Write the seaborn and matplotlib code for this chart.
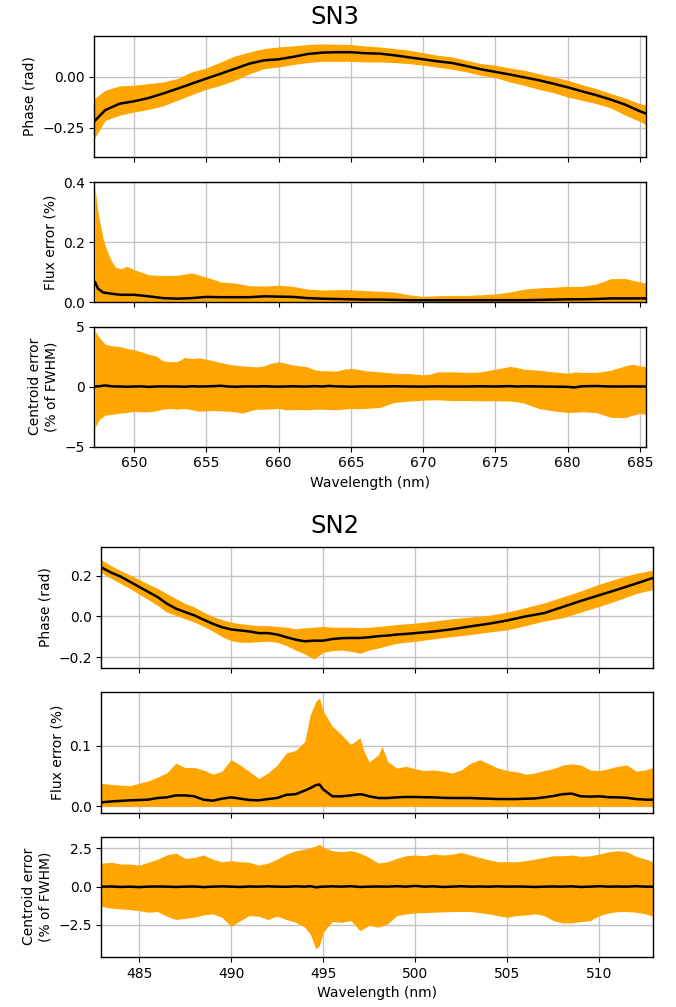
import matplotlib
matplotlib.use("Agg")
import matplotlib.pyplot as plt
import seaborn as sns
import numpy as np

# ---------------- SN3 filter ----------------
sn3_phase_wl = [647.25, 648, 649, 650, 651, 652, 653, 654, 655, 656, 657, 658, 659,
                660, 661, 662, 663, 664, 665, 666, 667, 668, 669, 670, 671, 672,
                673, 674, 675, 676, 677, 678, 679, 680, 681, 682, 683, 684, 685, 685.45]
sn3_phase_mean = [-0.219, -0.164, -0.132, -0.120, -0.104, -0.082, -0.058, -0.033, -0.008,
                  0.016, 0.041, 0.066, 0.082, 0.087, 0.099, 0.113, 0.120, 0.122, 0.122,
                  0.117, 0.115, 0.107, 0.097, 0.087, 0.077, 0.069, 0.054, 0.038, 0.025,
                  0.012, -0.002, -0.016, -0.033, -0.051, -0.071, -0.090, -0.112, -0.137,
                  -0.169, -0.181]
sn3_phase_hi = [-0.107, -0.066, -0.044, -0.041, -0.033, -0.025, -0.008, 0.025, 0.044,
                0.074, 0.104, 0.123, 0.140, 0.148, 0.153, 0.160, 0.163, 0.161, 0.160,
                0.153, 0.148, 0.140, 0.132, 0.120, 0.107, 0.099, 0.082, 0.066, 0.058,
                0.044, 0.033, 0.016, 0.000, -0.016, -0.038, -0.058, -0.082, -0.104,
                -0.132, -0.140]
sn3_phase_lo = [-0.304, -0.214, -0.189, -0.173, -0.160, -0.143, -0.115, -0.087, -0.061,
                -0.041, -0.016, 0.016, 0.041, 0.049, 0.061, 0.071, 0.077, 0.077, 0.077,
                0.074, 0.074, 0.071, 0.066, 0.058, 0.048, 0.038, 0.025, 0.008, -0.003,
                -0.025, -0.041, -0.061, -0.077, -0.099, -0.115, -0.132, -0.153, -0.189,
                -0.219, -0.238]

sn3_flux_wl = [647.3, 647.5, 647.85, 648.1, 648.4, 648.7, 649.1, 649.5,
               650, 651, 652, 653, 654, 655, 656, 657, 658, 659, 660, 661, 662, 663,
               664, 665, 666, 667, 668, 669, 670, 671, 672, 673, 674, 675, 676, 677,
               678, 679, 680, 681, 682, 683, 684, 685, 685.4]
sn3_flux_hi = [0.380, 0.300, 0.213, 0.174, 0.141, 0.116, 0.111, 0.119,
               0.108, 0.091, 0.088, 0.089, 0.097, 0.083, 0.067, 0.063, 0.054, 0.053,
               0.056, 0.052, 0.043, 0.040, 0.041, 0.041, 0.038, 0.036, 0.033, 0.024,
               0.019, 0.021, 0.022, 0.022, 0.024, 0.027, 0.033, 0.043, 0.047, 0.049,
               0.052, 0.052, 0.060, 0.078, 0.078, 0.067, 0.063]
sn3_flux_mean = [0.067, 0.045, 0.032, 0.030, 0.028, 0.026, 0.024, 0.024,
                 0.024, 0.019, 0.013, 0.011, 0.013, 0.017, 0.016, 0.016, 0.016, 0.019,
                 0.018, 0.017, 0.013, 0.011, 0.010, 0.009, 0.008, 0.008, 0.007, 0.006,
                 0.006, 0.006, 0.006, 0.006, 0.006, 0.006, 0.006, 0.006, 0.007, 0.008,
                 0.009, 0.009, 0.010, 0.012, 0.012, 0.012, 0.012]

sn3_cent_wl = [647.3, 647.6,
               648, 648.5, 649, 649.5, 650, 650.5, 651, 651.5, 652, 652.5,
               653, 653.5, 654, 654.5, 655, 655.5, 656, 656.5, 657, 657.5,
               658, 658.5, 659, 659.5, 660, 660.5, 661, 661.5, 662, 662.5,
               663, 663.5, 664, 664.5, 665, 665.5, 666,
               667, 668, 669, 670, 670.5, 671, 672, 673, 674, 675, 676, 676.5,
               677, 678, 679, 680, 680.5, 681, 682, 683, 684, 684.5, 685, 685.4]
sn3_cent_hi = [4.64, 4.08,
               3.53, 3.39, 3.33, 3.17, 3.06, 2.89, 2.69, 2.56, 2.14, 2.06,
               2.08, 2.42, 2.33, 2.39, 2.28, 2.14, 2.00, 1.86, 1.78, 1.72,
               1.67, 1.64, 1.72, 1.94, 2.06, 1.94, 1.78, 1.72, 1.64, 1.39,
               1.31, 1.31, 1.28, 1.44, 1.50, 1.44, 1.31,
               1.22, 1.11, 1.08, 0.97, 1.03, 1.22, 1.22, 1.17, 1.22, 1.44, 1.67, 1.58,
               1.44, 1.36, 1.22, 1.11, 1.22, 1.17, 1.17, 1.36, 1.72, 1.86, 1.72, 1.67]
sn3_cent_lo = [-3.42, -2.72,
               -2.39, -2.31, -2.22, -2.17, -2.08, -2.11, -2.11, -2.03, -1.89, -1.83,
               -1.89, -1.83, -1.94, -2.06, -2.03, -2.00, -2.03, -2.06, -2.11, -2.22,
               -2.03, -1.89, -1.89, -1.86, -1.83, -1.94, -1.94, -1.92, -1.94, -1.90,
               -1.89, -1.92, -1.94, -1.88, -1.83, -1.85, -1.83,
               -1.75, -1.33, -1.22, -1.14, -1.12, -1.11, -1.17, -1.17, -1.19, -1.19, -1.22, -1.28,
               -1.39, -1.83, -2.03, -2.17, -2.14, -2.11, -2.17, -2.58, -2.58, -2.40, -2.25, -2.31]
sn3_cent_mean = [0.00, 0.02,
                 0.09, 0.01, 0.00, -0.02, 0.00, 0.01, -0.03, 0.00, 0.01, 0.00,
                 0.00, -0.02, 0.02, 0.00, 0.01, 0.03, 0.06, 0.00, -0.02, 0.00,
                 0.01, 0.00, 0.02, 0.00, -0.01, 0.00, 0.02, 0.00, 0.00, 0.03,
                 0.00, 0.05, 0.01, 0.00, -0.02, 0.00, 0.01,
                 0.00, 0.02, 0.00, -0.01, 0.00, 0.01, 0.00, 0.00, 0.02, 0.00, 0.03, 0.00,
                 0.02, 0.00, -0.01, -0.03, -0.08, 0.02, 0.04, 0.00, 0.00, 0.01, 0.00, 0.00]

# ---------------- SN2 filter ----------------
sn2_phase_wl = [482.95, 483.5, 484, 484.5, 485, 485.5, 486, 486.5, 487, 487.5,
                488, 488.5, 489, 489.5, 490, 490.5, 491, 491.5, 492, 492.5,
                493, 493.5, 494, 494.5, 495, 495.5, 496, 496.5, 497, 497.5,
                498, 498.5, 499, 499.5, 500,
                501, 502, 503, 504, 505, 506, 507, 508, 509, 510, 511, 512, 512.93]
sn2_phase_mean = [0.240, 0.214, 0.195, 0.170, 0.145, 0.120, 0.095, 0.063, 0.038, 0.021,
                  0.005, -0.016, -0.036, -0.053, -0.064, -0.069, -0.074, -0.082, -0.082, -0.089,
                  -0.102, -0.114, -0.122, -0.119, -0.119, -0.111, -0.107, -0.106, -0.106, -0.102,
                  -0.097, -0.094, -0.089, -0.086, -0.082,
                  -0.074, -0.063, -0.049, -0.036, -0.020, 0.000, 0.016, 0.046, 0.076, 0.104,
                  0.132, 0.161, 0.189]
sn2_phase_hi = [0.277, 0.247, 0.224, 0.203, 0.181, 0.158, 0.137, 0.112, 0.087, 0.063,
                0.046, 0.021, 0.000, -0.016, -0.028, -0.036, -0.041, -0.045, -0.045, -0.049,
                -0.053, -0.061, -0.056, -0.053, -0.049, -0.053, -0.053, -0.053, -0.056, -0.053,
                -0.049, -0.045, -0.040, -0.036, -0.033,
                -0.023, -0.012, -0.003, 0.005, 0.021, 0.043, 0.066, 0.095, 0.125, 0.158,
                0.186, 0.211, 0.227]
sn2_phase_lo = [0.214, 0.186, 0.161, 0.137, 0.109, 0.082, 0.054, 0.021, 0.005, -0.012,
                -0.028, -0.049, -0.072, -0.099, -0.119, -0.127, -0.127, -0.124, -0.122, -0.127,
                -0.143, -0.165, -0.184, -0.209, -0.176, -0.168, -0.165, -0.171, -0.181, -0.165,
                -0.155, -0.143, -0.132, -0.127, -0.122,
                -0.110, -0.099, -0.089, -0.077, -0.066, -0.045, -0.023, -0.007, 0.021, 0.049,
                0.079, 0.112, 0.132]

sn2_flux_wl = [482.95, 483.5, 484, 484.5, 485, 485.5, 486, 486.5, 487, 487.5,
               488, 488.5, 489, 489.5, 490, 490.5, 491, 491.5, 492, 492.5,
               493, 493.5, 494, 494.3, 494.6, 494.8, 495, 495.5, 496, 496.5,
               497, 497.2, 497.5, 498, 498.2, 498.5, 499, 499.5, 500, 500.5,
               501, 501.5, 502, 502.5, 503, 503.5, 504, 504.5, 505, 505.5,
               506, 506.5, 507, 507.5, 508, 508.5, 509, 509.5, 510, 510.5,
               511, 511.5, 512, 512.5, 512.93]
sn2_flux_hi = [0.038, 0.036, 0.035, 0.034, 0.038, 0.042, 0.048, 0.055, 0.071, 0.064,
               0.064, 0.060, 0.053, 0.058, 0.077, 0.068, 0.057, 0.046, 0.055, 0.068,
               0.088, 0.092, 0.107, 0.151, 0.173, 0.179, 0.157, 0.132, 0.118, 0.102,
               0.113, 0.092, 0.073, 0.085, 0.099, 0.074, 0.063, 0.066, 0.062, 0.059,
               0.060, 0.058, 0.055, 0.060, 0.071, 0.077, 0.070, 0.063, 0.059, 0.057,
               0.053, 0.055, 0.059, 0.062, 0.068, 0.070, 0.068, 0.060, 0.059, 0.062,
               0.066, 0.068, 0.058, 0.060, 0.064]
sn2_flux_mean = [0.0066, 0.0080, 0.0090, 0.0099, 0.0104, 0.0110, 0.0137, 0.0148, 0.0180, 0.0180,
                 0.0165, 0.0110, 0.0093, 0.0126, 0.0148, 0.0126, 0.0104, 0.0099, 0.0120, 0.0137,
                 0.0190, 0.0200, 0.0260, 0.0300, 0.0350, 0.0360, 0.0280, 0.0165, 0.0165, 0.0180,
                 0.0200, 0.0190, 0.0165, 0.0137, 0.0137, 0.0137, 0.0148, 0.0154, 0.0154, 0.0150,
                 0.0148, 0.0140, 0.0137, 0.0137, 0.0137, 0.0130, 0.0126, 0.0120, 0.0120, 0.0120,
                 0.0126, 0.0130, 0.0148, 0.0170, 0.0200, 0.0210, 0.0165, 0.0160, 0.0165, 0.0150,
                 0.0148, 0.0140, 0.0120, 0.0110, 0.0110]

sn2_cent_wl = [482.95, 483.5, 484, 484.5, 485, 485.5, 486, 486.5, 487, 487.5,
               488, 488.5, 489, 489.5, 490, 490.5, 491, 491.5, 492, 492.5,
               493, 493.5, 494, 494.3, 494.6, 494.8, 495, 495.5, 496, 496.5,
               497, 497.5, 498, 498.5, 499, 499.5, 500, 500.5, 501, 501.5,
               502, 502.5, 503, 503.5, 504, 504.5, 505, 505.5, 506, 506.5,
               507, 507.5, 508, 508.5, 509, 509.5, 510, 510.5, 511, 511.5,
               512, 512.5, 512.93]
sn2_cent_hi = [1.54, 1.59, 1.48, 1.48, 1.41, 1.59, 1.80, 2.07, 2.20, 1.85,
               1.91, 2.07, 1.80, 1.63, 1.70, 1.63, 1.59, 1.41, 1.54, 1.80,
               2.13, 2.35, 2.46, 2.55, 2.66, 2.78, 2.57, 2.35, 2.28, 2.35,
               2.20, 1.91, 1.54, 1.63, 1.85, 2.02, 2.07, 2.02, 2.13, 2.07,
               2.13, 2.24, 2.07, 1.91, 1.76, 1.63, 1.63, 1.63, 1.70, 1.80,
               1.91, 2.02, 2.02, 2.07, 1.98, 2.02, 2.13, 2.28, 2.35, 2.28,
               1.98, 1.80, 1.63]
sn2_cent_lo = [-1.28, -1.41, -1.46, -1.50, -1.57, -1.67, -1.63, -1.93, -2.15, -2.07,
               -2.00, -1.85, -1.78, -2.00, -2.59, -2.22, -1.89, -1.93, -2.15, -1.93,
               -2.15, -2.33, -2.65, -3.09, -4.07, -3.85, -2.98, -2.28, -2.33, -2.22,
               -2.87, -2.54, -2.65, -2.43, -1.89, -1.78, -1.72, -1.70, -1.67, -1.65,
               -1.63, -1.62, -1.63, -1.70, -1.78, -1.90, -2.00, -1.89, -1.85, -1.78,
               -1.89, -2.22, -2.37, -2.37, -2.28, -2.22, -1.89, -1.72, -1.63, -1.63,
               -1.67, -1.78, -1.93]
sn2_cent_mean = [0.00, 0.01, -0.02, 0.00, -0.03, 0.00, 0.01, 0.00, -0.02, 0.00,
                 0.01, -0.03, 0.00, 0.02, 0.00, -0.02, 0.01, 0.00, 0.02, 0.00,
                 -0.01, 0.02, 0.00, 0.03, -0.04, -0.02, 0.00, 0.02, 0.00, 0.03,
                 -0.02, 0.00, 0.01, 0.00, 0.03, 0.00, 0.05, 0.00, 0.02, -0.02,
                 0.00, 0.03, 0.00, 0.01, 0.00, 0.02, 0.00, 0.01, 0.00, -0.02,
                 0.00, 0.01, 0.00, 0.02, -0.02, 0.00, 0.03, 0.00, 0.01, 0.00,
                 0.03, 0.00, 0.00]

# axis settings for each filter
sn3_xlim = (647.25, 685.45)
sn3_xticks = [650, 655, 660, 665, 670, 675, 680, 685]
sn3_ylims = [(-0.395, 0.202), (0.0, 0.4), (-5.0, 5.0)]
sn3_yticks = [[-0.25, 0.0], [0.0, 0.2, 0.4], [-5, 0, 5]]

sn2_xlim = (482.95, 512.93)
sn2_xticks = [485, 490, 495, 500, 505, 510]
sn2_ylims = [(-0.253, 0.34), (-0.011, 0.1885), (-4.6, 3.28)]
sn2_yticks = [[-0.2, 0.0, 0.2], [0.0, 0.1], [-2.5, 0.0, 2.5]]

ylabels = ["Phase (rad)", "Flux error (%)", "Centroid error\n(% of FWHM)"]

sns.set_style("ticks", {
    "axes.edgecolor": "black",
    "axes.grid": True,
    "grid.color": "#c4c4c4",
    "xtick.color": "black",
    "ytick.color": "black",
    "axes.labelcolor": "black",
    "text.color": "black",
})
plt.rcParams.update({
    "font.family": ["DejaVu Sans"],
    "font.size": 10,
    "axes.labelsize": 10,
    "xtick.labelsize": 10,
    "ytick.labelsize": 10,
    "axes.linewidth": 1.0,
    "grid.linewidth": 1.0,
    "xtick.major.size": 3.5,
    "ytick.major.size": 3.5,
    "axes.axisbelow": True,
    "text.color": "black",
})

W, H = 676, 1007
fig = plt.figure(figsize=(W / 100, H / 100), dpi=100)

BAND = "#FFA500"


def rect(left_px, top_px, bot_px):
    return [left_px / W, 1 - bot_px / H, 552 / W, (bot_px - top_px) / H]


def draw_group(rows_px, left_px, xlim, xticks, ylims, yticks, series, title, title_y):
    axes = []
    for i, (top, bot) in enumerate(rows_px):
        ax = fig.add_axes(rect(left_px, top, bot))
        wl, lo, hi, mean = series[i]
        ax.fill_between(wl, lo, hi, color=BAND, linewidth=0, zorder=2)
        sns.lineplot(x=wl, y=mean, ax=ax, color="black", linewidth=1.8, zorder=3)
        ax.set_xlim(*xlim)
        ax.set_ylim(*ylims[i])
        ax.set_yticks(yticks[i])
        ax.set_xticks(xticks)
        ax.set_ylabel(ylabels[i])
        ax.grid(True, color="#c4c4c4", linewidth=1.0)
        for s in ax.spines.values():
            s.set_visible(True)
            s.set_color("black")
        if i < 2:
            ax.tick_params(labelbottom=False)
        else:
            ax.set_xlabel("Wavelength (nm)")
        axes.append(ax)
    fig.text(0.495, title_y, title, ha="center", va="center", fontsize=17.5,
             color="black")
    return axes


sn3_series = [
    (sn3_phase_wl, sn3_phase_lo, sn3_phase_hi, sn3_phase_mean),
    (sn3_flux_wl, [0.0] * len(sn3_flux_wl), sn3_flux_hi, sn3_flux_mean),
    (sn3_cent_wl, sn3_cent_lo, sn3_cent_hi, sn3_cent_mean),
]
sn2_series = [
    (sn2_phase_wl, sn2_phase_lo, sn2_phase_hi, sn2_phase_mean),
    (sn2_flux_wl, [0.0] * len(sn2_flux_wl), sn2_flux_hi, sn2_flux_mean),
    (sn2_cent_wl, sn2_cent_lo, sn2_cent_hi, sn2_cent_mean),
]

draw_group([(36, 157), (182, 302), (326.5, 446.5)], 94.3, sn3_xlim, sn3_xticks,
           sn3_ylims, sn3_yticks, sn3_series, "SN3", 1 - 17 / H)
draw_group([(547, 668), (692, 813), (836.5, 957)], 101.3, sn2_xlim, sn2_xticks,
           sn2_ylims, sn2_yticks, sn2_series, "SN2", 1 - 526 / H)

fig.savefig("out.png", dpi=100)
